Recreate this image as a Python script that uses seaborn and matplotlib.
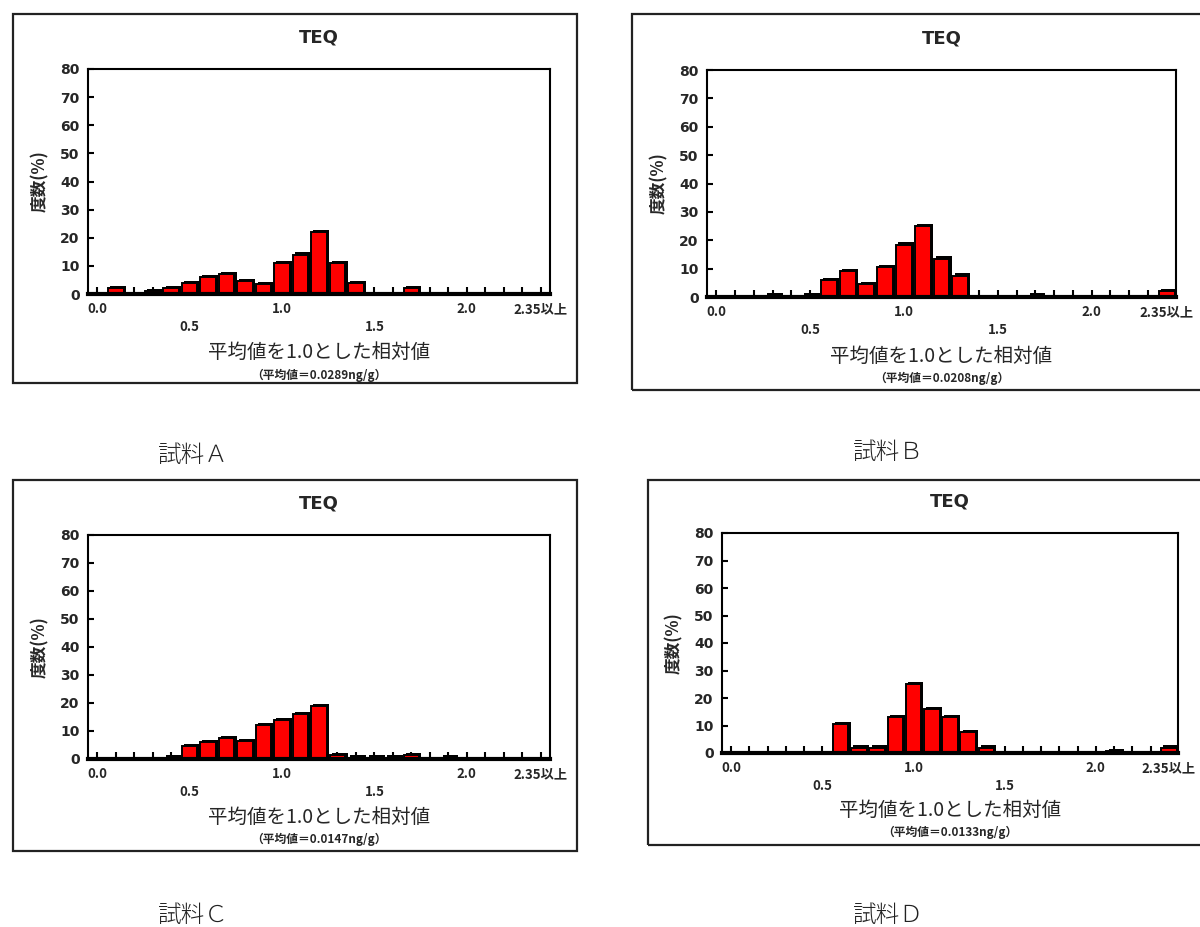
import matplotlib
matplotlib.use("Agg")
import matplotlib.pyplot as plt
import matplotlib.patheffects as pe
from matplotlib.patches import Rectangle
import seaborn as sns
import pandas as pd

# ---------------- data ----------------
categories = ['0.0', '0.1', '0.2', '0.3', '0.4', '0.5', '0.6', '0.7', '0.8', '0.9',
              '1.0', '1.1', '1.2', '1.3', '1.4', '1.5', '1.6', '1.7', '1.8', '1.9',
              '2.0', '2.1', '2.2', '2.3', '2.35以上']
tick_labels = ['0.0', '', '', '', '', '\n0.5', '', '', '', '',
               '1.0', '', '', '', '', '\n1.5', '', '', '', '',
               '2.0', '', '', '', '2.35以上']
sample_a = [0, 2, 0, 1, 2, 4, 6, 7, 4.5, 3.5, 11, 14, 22, 11, 4, 0, 0, 2, 0, 0, 0, 0, 0, 0, 0]
sample_b = [0, 0, 0, 0.5, 0, 0.5, 6, 9, 4.5, 10.5, 18.5, 25, 13.5, 7.5, 0, 0, 0, 0.5, 0, 0, 0, 0, 0, 0, 2]
sample_c = [0, 0, 0, 0, 0.5, 4.5, 6, 7.5, 6.5, 12, 14, 16, 19, 1.5, 0.5, 0.5, 0.5, 1.5, 0, 0.5, 0, 0, 0, 0, 0]
sample_d = [0, 0, 0, 0, 0, 0, 10.5, 2, 2, 13, 25, 16, 13, 7.5, 2, 0, 0, 0, 0, 0, 0, 0.8, 0, 0, 2]
means = ['（平均値＝0.0289ng/g）', '（平均値＝0.0208ng/g）', '（平均値＝0.0147ng/g）', '（平均値＝0.0133ng/g）']
captions = ['試料Ａ', '試料Ｂ', '試料Ｃ', '試料Ｄ']
title = 'TEQ'
xlabel = '平均値を1.0とした相対値'
ylabel = '度数(%)'
yticks = [0, 10, 20, 30, 40, 50, 60, 70, 80]

sns.set_theme(style='white')
plt.rcParams['font.family'] = ['Noto Sans CJK JP', 'DejaVu Sans']

W, H = 1200, 927
fig = plt.figure(figsize=(W / 100, H / 100), dpi=100)
fig.patch.set_facecolor('white')


def rect(l, t, r, b):
    return [l / W, 1 - b / H, (r - l) / W, (b - t) / H]


# layout: (axes box), (frame box), caption position
panels = [
    (sample_a, (88, 69, 550, 294), (13, 14, 577, 383), (193, 455), means[0], captions[0]),
    (sample_b, (707, 70, 1176, 297), (632, 14, 1210, 390), (888, 452), means[1], captions[1]),
    (sample_c, (88, 535, 550, 759), (13, 480, 577, 851), (193, 915), means[2], captions[2]),
    (sample_d, (722, 533, 1178, 753), (648, 480, 1210, 845), (888, 915), means[3], captions[3]),
]

for values, abox, fbox, cap_pos, mean_txt, cap in panels:
    # outer frame
    l, t, r, b = fbox
    fig.patches.append(Rectangle((l / W, 1 - b / H), (r - l) / W, (b - t) / H,
                                 transform=fig.transFigure, fill=False,
                                 edgecolor='#222222', linewidth=1.6, zorder=0))
    ax = fig.add_axes(rect(*abox))
    df = pd.DataFrame({'cat': categories, 'val': values})
    sns.barplot(data=df, x='cat', y='val', order=categories, color='#ff0000',
                saturation=1, width=0.85, edgecolor='black', linewidth=1.4, ax=ax)
    for p in ax.patches:
        p.set_path_effects([pe.SimplePatchShadow(offset=(1.6, 1.6), shadow_rgbFace='black', alpha=1.0),
                            pe.Normal()])
    ax.set_xlim(-0.5, len(categories) - 0.5)
    ax.set_ylim(0, 80)
    ax.set_yticks(yticks)
    ax.set_yticklabels([str(v) for v in yticks], fontsize=10, fontweight='bold', family='DejaVu Sans')
    ax.set_xticks(range(len(categories)))
    ax.set_xticklabels(tick_labels, fontsize=9.5, fontweight='bold', linespacing=1.3)
    ax.tick_params(axis='x', direction='in', length=5, width=1.5, color='black', pad=6, bottom=True)
    ax.tick_params(axis='y', direction='in', length=4, width=1.5, color='black', pad=6, left=True)
    for side in ['top', 'right', 'left']:
        ax.spines[side].set_color('black')
        ax.spines[side].set_linewidth(1.5)
    ax.spines['bottom'].set_color('black')
    ax.spines['bottom'].set_linewidth(3)
    ax.set_xlabel('')
    ax.set_ylabel(ylabel, fontsize=12, fontweight='bold', labelpad=8)
    ax.set_title(title, fontsize=13, fontweight='bold', pad=19, family='DejaVu Sans')
    ax.text(0.5, -0.26, xlabel, transform=ax.transAxes, ha='center', va='center', fontsize=14)
    ax.text(0.5, -0.36, mean_txt, transform=ax.transAxes, ha='center', va='center', fontsize=8.5, fontweight='bold')
    fig.text(cap_pos[0] / W, 1 - cap_pos[1] / H, cap, ha='center', va='center',
             fontsize=17, fontweight='light', color='#222222')

fig.savefig('out.png', dpi=100, facecolor='white')
